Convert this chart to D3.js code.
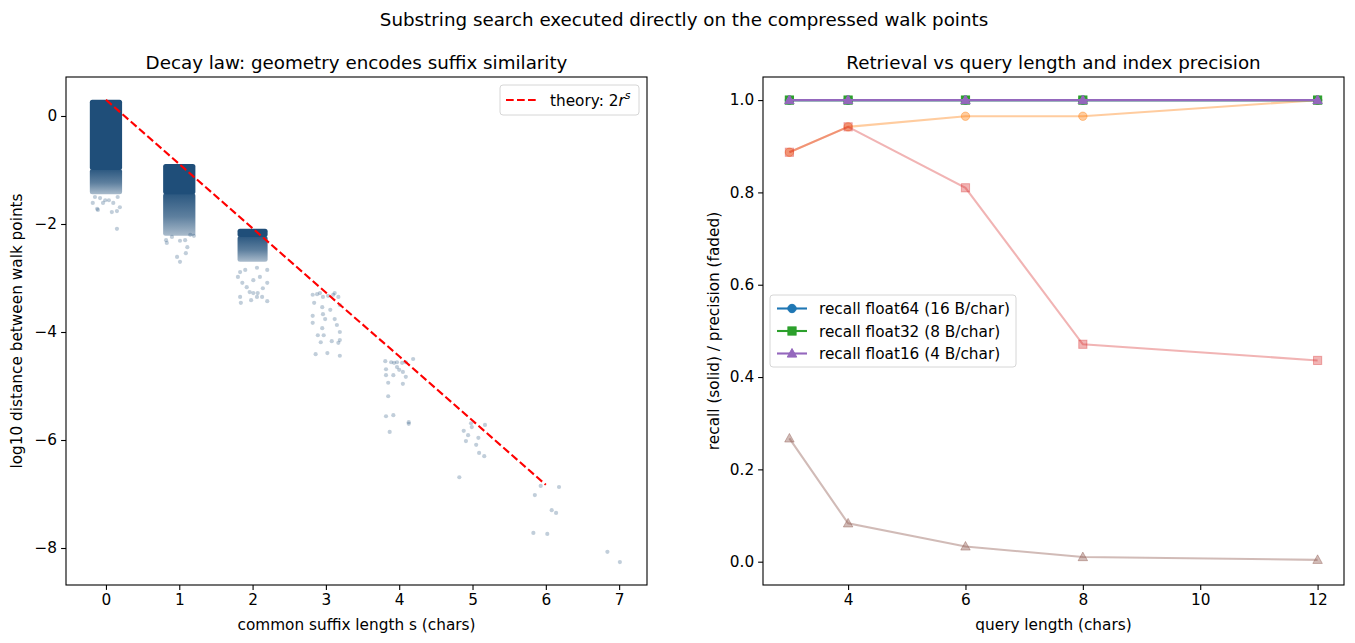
<!DOCTYPE html>
<html><head><meta charset="utf-8">
<script src="https://cdn.jsdelivr.net/npm/d3@7"></script>
<style>body{margin:0;background:#fff}svg text{font-family:"DejaVu Sans",sans-serif;fill:#000}</style>
</head><body><svg id="c" width="1355" height="643"></svg>
<script>
// ---------- data: left panel ----------
const leftXTicks = [0,1,2,3,4,5,6,7];
const leftYTicks = [0,-2,-4,-6,-8];
const theoryS = [0,1,2,3,4,5,6];
const theoryLog = [0.30,-0.89,-2.08,-3.27,-4.45,-5.64,-6.83];
// dense clusters of points (s, half jitter width, top, dense bottom, fading bottom)
const bandS = [0,1,2];
const bandHalf = [0.22,0.22,0.205];
const bandTop = [0.30,-0.89,-2.09];
const bandDense = [-1.00,-1.45,-2.24];
const bandFade = [-1.45,-2.22,-2.70];
// sparse points: jittered s and log10 distance
const ptS = [-0.18,-0.12,-0.11,-0.04,-0.01,0.10,0.15,0.19,0.08,-0.15,0.15,-0.08,0.04,0.16,
 0.82,0.83,0.90,1.01,1.08,1.15,1.11,1.09,0.97,1.01,1.20,
 1.80,1.86,1.92,1.96,2.01,2.07,2.14,2.20,1.83,1.98,2.06,2.13,2.20,1.84,2.01,2.10,1.90,2.06,2.20,1.83,
 2.82,2.88,2.96,3.10,3.17,2.84,2.95,3.06,3.19,2.82,2.96,3.12,2.99,3.15,2.82,2.95,3.19,2.89,2.97,2.93,3.08,3.17,3.19,2.86,3.02,3.19,2.92,3.03,3.12,
 3.81,3.89,3.93,3.97,4.04,4.09,4.19,3.97,4.00,4.05,3.82,3.82,3.92,4.09,3.85,4.05,3.85,3.82,3.92,4.13,4.13,3.87,
 4.88,4.94,4.91,4.99,4.98,5.17,5.08,5.05,5.09,5.16,4.82,
 5.93,6.18,5.85,6.08,6.14,5.83,6.02,
 6.84,7.01];
const ptLog = [-1.61,-1.72,-1.74,-1.61,-1.56,-1.61,-1.76,-1.69,-1.78,-1.50,-2.09,-1.52,-1.56,-1.50,
 -2.30,-2.35,-2.24,-2.31,-2.30,-2.20,-2.43,-2.54,-2.61,-2.70,-2.22,
 -2.98,-3.09,-3.17,-3.26,-3.28,-3.28,-3.19,-3.09,-3.35,-3.41,-3.35,-3.35,-3.43,-3.46,-3.04,-2.98,-2.85,-2.81,-2.85,-2.89,
 -3.31,-3.30,-3.35,-3.31,-3.35,-3.46,-3.54,-3.59,-3.50,-3.70,-3.67,-3.76,-3.76,-3.87,-3.83,-3.93,-4.00,-4.06,-4.06,-4.19,-4.17,-4.20,-4.15,-4.41,-4.39,-4.44,-3.28,-3.33,-3.28,
 -4.54,-4.56,-4.57,-4.56,-4.57,-4.56,-4.50,-4.65,-4.70,-4.74,-4.69,-4.80,-4.80,-4.83,-4.94,-4.96,-5.19,-5.56,-5.54,-5.67,-5.70,-5.85,
 -5.83,-5.91,-6.02,-5.76,-5.69,-5.72,-5.96,-6.09,-6.24,-6.30,-6.69,
 -6.85,-6.87,-7.02,-7.30,-7.35,-7.72,-7.74,
 -8.07,-8.26];

// ---------- data: right panel ----------
const queryLen = [3,4,6,8,12];
const rightXTicks = [4,6,8,10,12];
const rightYTicks = [0,0.2,0.4,0.6,0.8,1.0];
const recall64 = [1,1,1,1,1];
const recall32 = [1,1,1,1,1];
const recall16 = [1,1,1,1,1];
const prec64 = [0.887,0.942,0.965,0.965,1.0];
const prec32 = [0.887,0.942,0.810,0.471,0.436];
const prec16 = [0.267,0.083,0.033,0.010,0.004];
const legendLabels = ["recall float64 (16 B/char)","recall float32 (8 B/char)","recall float16 (4 B/char)"];

const svg = d3.select("#c");
const FS = 15.3;
const TS = 18.3;

// ---------- titles ----------
svg.append("text").attr("x",684).attr("y",25.5).attr("text-anchor","middle").attr("font-size",TS)
  .text("Substring search executed directly on the compressed walk points");

function frame(g, x0, x1, y0, y1){
  g.append("rect").attr("x",x0).attr("y",y0).attr("width",x1-x0).attr("height",y1-y0)
   .attr("fill","none").attr("stroke","#000").attr("stroke-width",1.1);
}

// ---------- left panel ----------
const L = {x0:66,x1:647,y0:77,y1:585};
const xL = d3.scaleLinear().domain([-0.545,7.38]).range([L.x0,L.x1]);
const yL = d3.scaleLinear().domain([-8.685,0.722]).range([L.y1,L.y0]);
const gl = svg.append("g");
svg.append("text").attr("x",(L.x0+L.x1)/2).attr("y",68.5).attr("text-anchor","middle").attr("font-size",TS)
  .text("Decay law: geometry encodes suffix similarity");

const defs = svg.append("defs");
const grad = defs.append("linearGradient").attr("id","fade").attr("x1",0).attr("x2",0).attr("y1",0).attr("y2",1);
grad.append("stop").attr("offset","0%").attr("stop-color","#1f4e79").attr("stop-opacity",0.95);
grad.append("stop").attr("offset","55%").attr("stop-color","#1f4e79").attr("stop-opacity",0.72);
grad.append("stop").attr("offset","100%").attr("stop-color","#1f4e79").attr("stop-opacity",0.38);
const clip = defs.append("clipPath").attr("id","clipL");
clip.append("rect").attr("x",L.x0).attr("y",L.y0).attr("width",L.x1-L.x0).attr("height",L.y1-L.y0);
const plotL = gl.append("g").attr("clip-path","url(#clipL)");

bandS.forEach((s,i)=>{
  plotL.append("rect").attr("x",xL(s-bandHalf[i])).attr("width",xL(s+bandHalf[i])-xL(s-bandHalf[i]))
    .attr("y",yL(bandDense[i])-1).attr("height",yL(bandFade[i])-yL(bandDense[i])+1)
    .attr("rx",2.5).attr("fill","url(#fade)");
  plotL.append("rect").attr("x",xL(s-bandHalf[i])).attr("width",xL(s+bandHalf[i])-xL(s-bandHalf[i]))
    .attr("y",yL(bandTop[i])).attr("height",yL(bandDense[i])-yL(bandTop[i]))
    .attr("rx",2.5).attr("fill","#1f4e79");
});
plotL.selectAll("circle.pt").data(ptS).join("circle").attr("class","pt")
  .attr("cx",d=>xL(d)).attr("cy",(d,i)=>yL(ptLog[i])).attr("r",2.1)
  .attr("fill","#1f4e79").attr("fill-opacity",0.28);
plotL.append("path").datum(theoryS)
  .attr("d",d3.line().x(d=>xL(d)).y((d,i)=>yL(theoryLog[i])))
  .attr("fill","none").attr("stroke","#ff0000").attr("stroke-width",2.1).attr("stroke-dasharray","7.7,3.3");

gl.append("g").attr("transform",`translate(0,${L.y1})`)
  .call(d3.axisBottom(xL).tickValues(leftXTicks).tickSize(4.9).tickPadding(4).tickFormat(d3.format("d")));
gl.append("g").attr("transform",`translate(${L.x0},0)`)
  .call(d3.axisLeft(yL).tickValues(leftYTicks).tickSize(4.9).tickPadding(4).tickFormat(d3.format("d")));
frame(gl,L.x0,L.x1,L.y0,L.y1);
gl.append("text").attr("x",(L.x0+L.x1)/2).attr("y",630).attr("text-anchor","middle").attr("font-size",FS)
  .text("common suffix length s (chars)");
gl.append("text").attr("transform",`translate(22,${(L.y0+L.y1)/2}) rotate(-90)`).attr("text-anchor","middle").attr("font-size",FS)
  .text("log10 distance between walk points");
// legend left
const lgL = gl.append("g");
lgL.append("rect").attr("x",500).attr("y",85).attr("width",139).attr("height",30).attr("rx",3)
  .attr("fill","#fff").attr("fill-opacity",0.8).attr("stroke","#d6d6d6");
lgL.append("line").attr("x1",506).attr("x2",537).attr("y1",100).attr("y2",100)
  .attr("stroke","#ff0000").attr("stroke-width",2.1).attr("stroke-dasharray","7.7,3.3");
const tl = lgL.append("text").attr("x",550).attr("y",105.5).attr("font-size",FS);
tl.append("tspan").text("theory: 2");
tl.append("tspan").attr("font-style","italic").text("r");
tl.append("tspan").attr("font-style","italic").attr("font-size",11).attr("dy",-6.5).text("s");

// ---------- right panel ----------
const R = {x0:763,x1:1344,y0:77,y1:585};
const xR = d3.scaleLinear().domain([2.55,12.45]).range([R.x0,R.x1]);
const yR = d3.scaleLinear().domain([-0.0505,1.05]).range([R.y1,R.y0]);
const gr = svg.append("g");
gr.append("text").attr("x",(R.x0+R.x1)/2).attr("y",68.5).attr("text-anchor","middle").attr("font-size",TS)
  .text("Retrieval vs query length and index precision");

function marker(g, type, cx, cy, color, op){
  let el;
  if(type==="o") el = g.append("circle").attr("cx",cx).attr("cy",cy).attr("r",4.2);
  else if(type==="s") el = g.append("rect").attr("x",cx-4.1).attr("y",cy-4.1).attr("width",8.2).attr("height",8.2);
  else { const r=5; el = g.append("path").attr("d",`M${cx},${cy-r}L${cx+r*0.95},${cy+r*0.72}L${cx-r*0.95},${cy+r*0.72}Z`); }
  el.attr("fill",color).attr("fill-opacity",op).attr("stroke",color).attr("stroke-opacity",op).attr("stroke-width",1);
}
function series(vals, color, type, op){
  const g = gr.append("g");
  g.append("path").datum(queryLen)
   .attr("d",d3.line().x(d=>xR(d)).y((d,i)=>yR(vals[i])))
   .attr("fill","none").attr("stroke",color).attr("stroke-width",2.1).attr("stroke-opacity",op);
  queryLen.forEach((q,i)=>marker(g,type,xR(q),yR(vals[i]),color,op));
}
series(recall64,"#1f77b4","o",1);
series(prec64,"#ff7f0e","o",0.4);
series(recall32,"#2ca02c","s",1);
series(prec32,"#d62728","s",0.35);
series(recall16,"#9467bd","^",1);
series(prec16,"#8c564b","^",0.4);

gr.append("g").attr("transform",`translate(0,${R.y1})`)
  .call(d3.axisBottom(xR).tickValues(rightXTicks).tickSize(4.9).tickPadding(4).tickFormat(d3.format("d")));
gr.append("g").attr("transform",`translate(${R.x0},0)`)
  .call(d3.axisLeft(yR).tickValues(rightYTicks).tickSize(4.9).tickPadding(4).tickFormat(d3.format(".1f")));
frame(gr,R.x0,R.x1,R.y0,R.y1);
gr.append("text").attr("x",(R.x0+R.x1)/2).attr("y",630).attr("text-anchor","middle").attr("font-size",FS)
  .text("query length (chars)");
gr.append("text").attr("transform",`translate(719,${(R.y0+R.y1)/2}) rotate(-90)`).attr("text-anchor","middle").attr("font-size",FS)
  .text("recall (solid) / precision (faded)");
// legend right
const lgR = gr.append("g");
lgR.append("rect").attr("x",770).attr("y",295).attr("width",246).attr("height",72).attr("rx",3)
  .attr("fill","#fff").attr("fill-opacity",0.8).attr("stroke","#d6d6d6");
const legColors = ["#1f77b4","#2ca02c","#9467bd"], legTypes=["o","s","^"];
legendLabels.forEach((lab,i)=>{
  const y = 308.5 + i*22.5;
  lgR.append("line").attr("x1",777).attr("x2",807).attr("y1",y).attr("y2",y).attr("stroke",legColors[i]).attr("stroke-width",2.1);
  marker(lgR,legTypes[i],792,y,legColors[i],1);
  lgR.append("text").attr("x",819).attr("y",y+5.5).attr("font-size",FS).text(lab);
});

svg.selectAll(".tick text").attr("font-size",FS).attr("font-family","DejaVu Sans").attr("fill","#000");
svg.selectAll(".tick line").attr("stroke","#000").attr("stroke-width",1.1);
svg.selectAll(".domain").remove();
</script></body></html>
